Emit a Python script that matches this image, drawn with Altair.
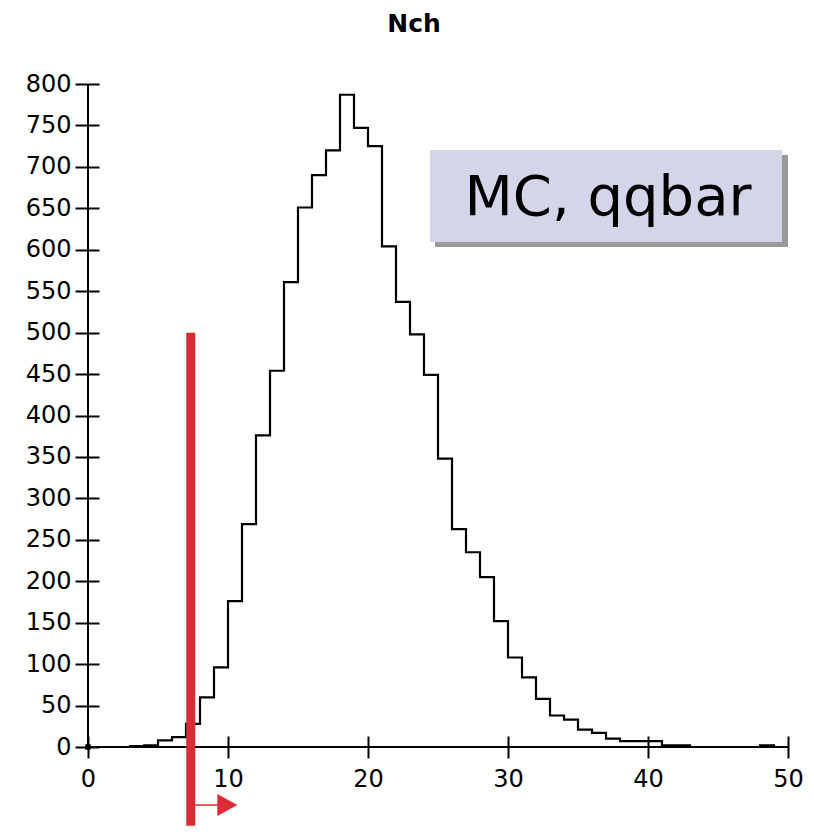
import altair as alt
import pandas as pd

# Histogram: Nch, bins of width 1 from 0 to 50
bin_edges = list(range(0, 51))
counts = [0, 0, 0, 1, 2, 8, 12, 28, 60, 96,
          176, 269, 376, 454, 561, 651, 690, 720, 787, 747,
          725, 604, 537, 498, 449, 348, 263, 235, 205, 152,
          108, 84, 58, 38, 33, 21, 17, 10, 7, 7,
          7, 2, 2, 0, 0, 0, 0, 0, 2, 0]

x_ticks = [0, 10, 20, 30, 40, 50]
y_ticks = list(range(0, 801, 50))

cut_value = [7.34]
cut_top = [500]
arrow_x = [7.6, 9.3]
arrow_head_x = [9.95]
arrow_y = [-70]

title_text = "Nch"
label_text = "MC, qqbar"

RED = "#dc2a36"
FONT = "DejaVu Sans"

hist_df = pd.DataFrame({"x": bin_edges, "y": counts + [counts[-1]]})
one = pd.DataFrame({"k": [0]})

xscale = alt.Scale(domain=[0, 50], nice=False, zero=False)
yscale = alt.Scale(domain=[0, 800], nice=False, zero=False)

hist = alt.Chart(hist_df).mark_line(
    interpolate="step-after", color="black", strokeWidth=2.2
).encode(
    x=alt.X("x:Q", scale=xscale, title=None,
            axis=alt.Axis(values=x_ticks, offset=-11, tickSize=22, domain=False,
                          grid=False, labelFont=FONT, labelFontSize=24,
                          labelColor="black", tickColor="black", tickWidth=2,
                          labelPadding=9, labelFlush=False, title=None)),
    y=alt.Y("y:Q", scale=yscale, title=None,
            axis=alt.Axis(values=y_ticks, offset=-11, tickSize=24, domain=False,
                          grid=False, labelFont=FONT, labelFontSize=24,
                          labelColor="black", tickColor="black", tickWidth=2,
                          labelPadding=4, labelFlush=False, title=None)),
)

y_domain = alt.Chart(one).mark_rule(color="black", strokeWidth=2).encode(
    x=alt.datum(0), y=alt.datum(0), y2=alt.datum(800)
)
x_domain = alt.Chart(one).mark_rule(color="black", strokeWidth=2).encode(
    y=alt.datum(0), x=alt.datum(0), x2=alt.datum(50)
)
origin = alt.Chart(one).mark_square(size=30, color="black", opacity=1, filled=True).encode(
    x=alt.datum(0), y=alt.datum(0)
)

cut_line = alt.Chart(one).mark_rule(color=RED, strokeWidth=9).encode(
    x=alt.datum(cut_value[0]), y=alt.datum(cut_top[0]), y2=alt.datum(-95)
)
arrow_line = alt.Chart(one).mark_rule(color=RED, strokeWidth=1.5).encode(
    x=alt.datum(arrow_x[0]), x2=alt.datum(arrow_x[1]), y=alt.datum(arrow_y[0])
)
arrow_head = alt.Chart(one).mark_point(
    shape="M-1,-1.1L1,0L-1,1.1Z", size=400, filled=True, color=RED, opacity=1
).encode(x=alt.datum(arrow_head_x[0]), y=alt.datum(arrow_y[0]))

shadow = alt.Chart(one).mark_rect(color="#9a9a9a").encode(
    x=alt.value(347), x2=alt.value(700), y=alt.value(71), y2=alt.value(163)
)
box = alt.Chart(one).mark_rect(color="#d5d5ea").encode(
    x=alt.value(342), x2=alt.value(694), y=alt.value(66), y2=alt.value(158)
)
label = alt.Chart(one).mark_text(
    text=label_text, font=FONT, fontSize=56, align="center", baseline="alphabetic",
    color="black"
).encode(x=alt.value(520), y=alt.value(131))

title = alt.Chart(one).mark_text(
    text=title_text, font=FONT, fontSize=25, fontWeight="bold", align="center",
    baseline="alphabetic", color="black"
).encode(x=alt.value(326), y=alt.value(-52))

chart = alt.layer(
    hist, y_domain, x_domain, origin, cut_line, arrow_line, arrow_head,
    shadow, box, label, title
).properties(
    width=700, height=663,
    padding={"left": 80, "top": 76, "right": 18, "bottom": 79},
    autosize=alt.AutoSizeParams(type="none"),
).configure_view(stroke=None)

chart.save("out.html", embed_options={"renderer": "svg", "actions": False})
